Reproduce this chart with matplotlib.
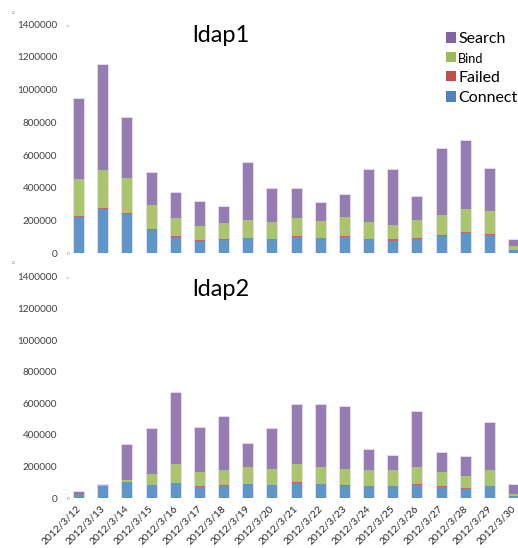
import matplotlib
matplotlib.use("Agg")
import matplotlib.pyplot as plt
from matplotlib.patches import Patch
import matplotlib.transforms as mtransforms
import numpy as np

plt.rcParams['font.family'] = ['Lato', 'DejaVu Sans']

dates = ["2012/3/12", "2012/3/13", "2012/3/14", "2012/3/15", "2012/3/16",
         "2012/3/17", "2012/3/18", "2012/3/19", "2012/3/20", "2012/3/21",
         "2012/3/22", "2012/3/23", "2012/3/24", "2012/3/25", "2012/3/26",
         "2012/3/27", "2012/3/28", "2012/3/29", "2012/3/30"]

# ldap1 daily counts
ldap1_connect = [222000, 271000, 241000, 145000, 100000, 78000, 84000, 94000, 88000, 100000,
                 94000, 100000, 88000, 78000, 88000, 108000, 124000, 114000, 20000]
ldap1_failed = [8000, 8000, 4000, 4000, 6000, 3000, 5000, 2000, 2000, 6000,
                2000, 8000, 2000, 8000, 8000, 2000, 7000, 6000, 2000]
ldap1_bind = [224000, 230000, 214000, 147000, 110000, 86000, 94000, 110000, 102000, 110000,
              104000, 114000, 102000, 85000, 108000, 125000, 140000, 139000, 23000]
ldap1_search = [488000, 643000, 368000, 194000, 151000, 145000, 100000, 343000, 202000, 178000,
                106000, 133000, 318000, 339000, 141000, 404000, 413000, 257000, 35000]

# ldap2 daily counts
ldap2_connect = [28000, 76000, 99000, 80000, 93000, 70000, 78000, 86000, 80000, 93000,
                 86000, 76000, 76000, 76000, 80000, 69000, 57000, 76000, 13000]
ldap2_failed = [1000, 3000, 1000, 2000, 2000, 3000, 3000, 1000, 2000, 6000,
                1000, 4000, 1000, 1000, 8000, 5000, 5000, 1000, 1000]
ldap2_bind = [1000, 2000, 12000, 68000, 118000, 89000, 98000, 109000, 101000, 118000,
              109000, 104000, 98000, 98000, 108000, 92000, 79000, 98000, 10000]
ldap2_search = [6000, 4000, 221000, 285000, 450000, 284000, 336000, 147000, 252000, 372000,
                393000, 393000, 130000, 88000, 347000, 120000, 118000, 301000, 57000]

y_ticks = [0, 200000, 400000, 600000, 800000, 1000000, 1200000, 1400000]

series_names = ["Connect", "Failed", "Bind", "Search"]
bar_colors = ["#5f96ca", "#d0605d", "#abc56d", "#957cb3"]
legend_colors = ["#4f81bd", "#c0504d", "#9bbb59", "#8064a2"]

W, H = 518, 548
fig = plt.figure(figsize=(W / 100, H / 100), dpi=100)


def px_axes(left, top, right, bottom):
    return fig.add_axes([left / W, 1 - bottom / H, (right - left) / W, (bottom - top) / H])


ax1 = px_axes(67, 24, 518, 253.3)
ax2 = px_axes(67, 277, 518, 498)

x = np.arange(len(dates))
width = 0.41


def draw_stack(ax, parts):
    totals = np.sum(parts, axis=0)
    ax.bar(x, totals, width, fill=False, edgecolor="#e2dbee", linewidth=1.4, zorder=1)
    bottom = np.zeros(len(x))
    for vals, col in zip(parts, bar_colors):
        ax.bar(x, vals, width, bottom=bottom, color=col, linewidth=0, zorder=2)
        bottom += np.array(vals)
    ax.set_xlim(-0.5, (518 - 79) / 24.17)
    ax.set_ylim(0, 1400000)
    ax.set_yticks(y_ticks)
    ax.set_yticklabels([str(v) for v in y_ticks], fontsize=7.2, color="#404040")
    ax.tick_params(axis="y", length=0, pad=7)
    for s in ax.spines.values():
        s.set_visible(False)
    ax.patch.set_alpha(0)


draw_stack(ax1, [ldap1_connect, ldap1_failed, ldap1_bind, ldap1_search])
draw_stack(ax2, [ldap2_connect, ldap2_failed, ldap2_bind, ldap2_search])

ax1.set_xticks([])
ax2.set_xticks(x)
ax2.set_xticklabels(dates, rotation=45, ha="right", va="top", rotation_mode="anchor",
                    fontsize=7.4, color="#262626")
ax2.tick_params(axis="x", length=0, pad=4)
shift = mtransforms.ScaledTranslation(-3 / 100, 0, fig.dpi_scale_trans)
for lbl in ax2.get_xticklabels():
    lbl.set_transform(lbl.get_transform() + shift)

fig.text(221 / W, 1 - 36 / H, "ldap1", fontsize=17, ha="center", va="center", color="#000000")
fig.text(221 / W, 1 - 289.5 / H, "ldap2", fontsize=17, ha="center", va="center", color="#000000")

handles = [Patch(facecolor=c, edgecolor="none") for c in legend_colors[::-1]]
leg = fig.legend(handles, series_names[::-1], loc="upper left",
                 bbox_to_anchor=(446 / W, 1 - 32 / H), frameon=False,
                 handlelength=0.62, handleheight=0.62, handletextpad=0.15,
                 labelspacing=0.38, borderaxespad=0, borderpad=0, fontsize=11.5)
sizes = [11.5, 9.2, 11.5, 11.5]
for t, s in zip(leg.get_texts(), sizes):
    t.set_fontsize(s)
    t.set_color("#000000")

# small chart-handle marks at the corners of the value axes
for ytop, yzero, ysq in [(27, 254, 12.5), (279, 499, 262)]:
    fig.text(13.3 / W, 1 - ysq / H, "\u25a1", fontsize=3.5, color="#909090", ha="center", va="center")
    fig.text(67 / W, 1 - ytop / H, "\u2248", fontsize=4, color="#a0a0a0", ha="center", va="center")
    fig.text(68 / W, 1 - yzero / H, "n", fontsize=3.5, color="#909090", ha="center", va="center")

fig.savefig("out.png", dpi=100)
